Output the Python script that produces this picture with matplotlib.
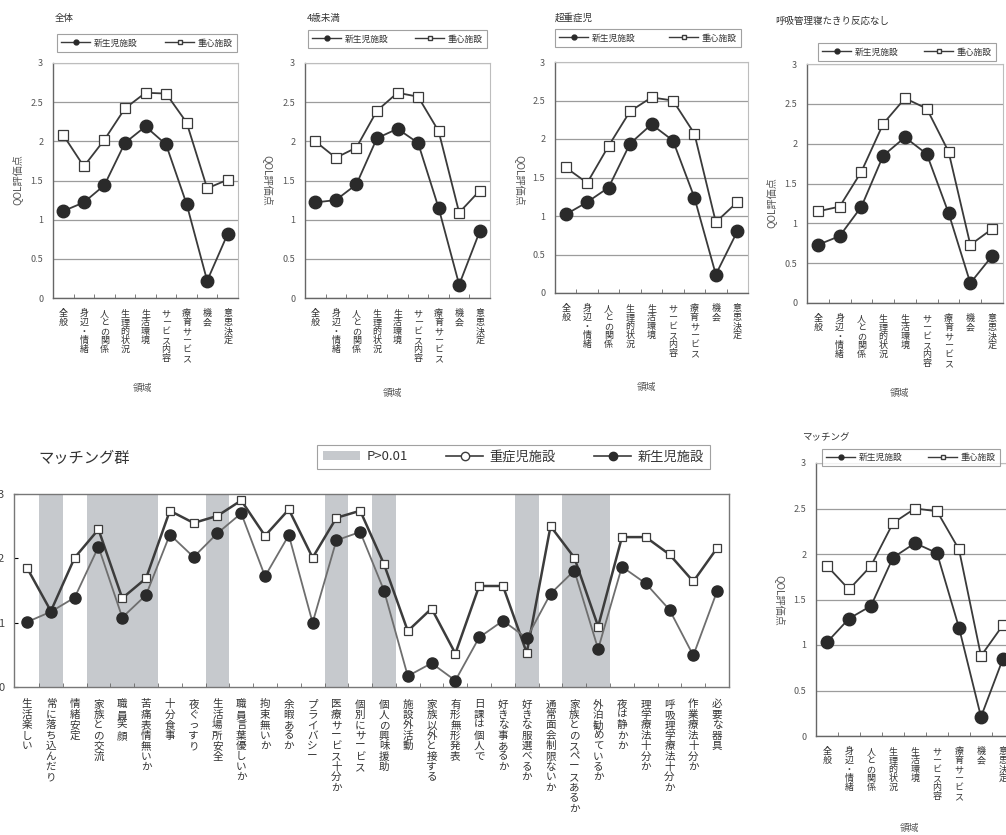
import matplotlib
matplotlib.use('Agg')
import matplotlib.pyplot as plt
from matplotlib.lines import Line2D
from matplotlib.patches import Patch
from matplotlib.ticker import FixedLocator
import numpy as np

plt.rcParams['font.family'] = ['Noto Sans CJK JP', 'DejaVu Sans']

W, H = 1006, 835

# ---------------- data ----------------
domains = ['全般', '身辺・情緒', '人との関係', '生理的状況', '生活環境',
           'サービス内容', '療育サービス', '機会', '意思決定']

all_neo = [1.11, 1.22, 1.44, 1.98, 2.19, 1.96, 1.20, 0.22, 0.82]
all_sev = [2.08, 1.68, 2.02, 2.42, 2.62, 2.61, 2.24, 1.40, 1.51]

u4_neo = [1.22, 1.25, 1.45, 2.04, 2.16, 1.98, 1.15, 0.17, 0.85]
u4_sev = [2.00, 1.79, 1.92, 2.39, 2.62, 2.57, 2.13, 1.09, 1.37]

ch_neo = [1.02, 1.18, 1.37, 1.94, 2.19, 1.98, 1.24, 0.24, 0.80]
ch_sev = [1.63, 1.43, 1.91, 2.36, 2.54, 2.50, 2.07, 0.92, 1.18]

rb_neo = [0.73, 0.84, 1.21, 1.85, 2.08, 1.87, 1.13, 0.25, 0.59]
rb_sev = [1.15, 1.21, 1.65, 2.25, 2.57, 2.44, 1.90, 0.73, 0.93]

mt_neo = [1.03, 1.29, 1.43, 1.96, 2.12, 2.01, 1.19, 0.21, 0.85]
mt_sev = [1.87, 1.61, 1.87, 2.34, 2.50, 2.47, 2.05, 0.88, 1.22]

items = ['生活楽しい', '常に落ち込んだり', '情緒安定', '家族との交流', '職員笑顔',
         '苦痛表情無いか', '十分食事', '夜ぐっすり', '生活場所安全', '職員言葉優しいか',
         '拘束無いか', '余暇あるか', 'プライバシー', '医療サービス十分か', '個別にサービス',
         '個人の興味援助', '施設外活動', '家族以外と接する', '有形無形発表', '日課は個人で',
         '好きな事あるか', '好きな服選べるか', '通常面会制限ないか', '家族とのスペースあるか',
         '外泊勧めているか', '夜は静かか', '理学療法十分か', '呼吸理学療法十分か',
         '作業療法十分か', '必要な器具']
item_sev = [1.85, 1.18, 2.01, 2.45, 1.38, 1.69, 2.74, 2.55, 2.66, 2.90,
            2.35, 2.76, 2.01, 2.63, 2.74, 1.91, 0.87, 1.22, 0.52, 1.57,
            1.57, 0.53, 2.50, 2.01, 0.94, 2.33, 2.33, 2.06, 1.64, 2.16]
item_neo = [1.01, 1.17, 1.39, 2.18, 1.08, 1.43, 2.37, 2.02, 2.39, 2.70,
            1.72, 2.36, 1.00, 2.28, 2.41, 1.50, 0.17, 0.37, 0.10, 0.77,
            1.03, 0.76, 1.45, 1.81, 0.59, 1.87, 1.61, 1.20, 0.49, 1.49]
p_gt_001 = [0, 1, 0, 1, 1, 1, 0, 0, 1, 0,
            0, 0, 0, 1, 0, 1, 0, 0, 0, 0,
            0, 1, 0, 1, 1, 0, 0, 0, 0, 0]

TXT = '#333333'
LINE = '#3a3a3a'
DOT = '#2a2a2a'
SHADE = '#c6c9cd'

fig = plt.figure(figsize=(W / 100, H / 100), dpi=100)
fig.patch.set_facecolor('white')


def px_axes(l, r, t, b):
    return fig.add_axes([l / W, 1 - b / H, (r - l) / W, (b - t) / H])


def vert(s):
    return '\n'.join(s)


def ftext(x, y, s, **kw):
    return fig.text(x / W, 1 - y / H, s, **kw)


def small_chart(box, title, title_xy, leg, ylab_xy, ylab_rot, xlab_xy, neo, sev):
    l, r, t, b = box
    ax = px_axes(l, r, t, b)
    x = np.arange(len(domains))
    ax.set_xlim(-0.5, len(domains) - 0.5)
    ax.set_ylim(0, 3)
    ax.set_yticks(np.arange(0, 3.01, 0.5))
    ax.set_yticklabels(['0', '0.5', '1', '1.5', '2', '2.5', '3'])
    ax.yaxis.grid(True, color='#9c9c9c', lw=0.9)
    ax.set_axisbelow(True)
    ax.plot(x, neo, color=LINE, lw=1.3, marker='o', ms=9,
            mfc=DOT, mec=DOT, zorder=3)
    ax.plot(x, sev, color=LINE, lw=1.3, marker='s', ms=7,
            mfc='white', mec=LINE, mew=0.9, zorder=4)
    ax.set_xticks(x)
    ax.set_xticklabels([vert(d) for d in domains], fontsize=6.5,
                       linespacing=1.0, color=TXT, va='top')
    ax.xaxis.set_minor_locator(FixedLocator(np.arange(0.5, len(domains) - 1, 1)))
    ax.tick_params(axis='x', which='major', length=0, pad=8)
    ax.tick_params(axis='x', which='minor', length=3, direction='in', color='#666')
    ax.tick_params(axis='y', length=0, labelsize=6.5, labelcolor='#555', pad=7)
    for s in ['left', 'bottom']:
        ax.spines[s].set_color('#666')
        ax.spines[s].set_linewidth(1.0)
    for s in ['top', 'right']:
        ax.spines[s].set_color('#bdbdbd')
        ax.spines[s].set_linewidth(0.8)
    ftext(title_xy[0], title_xy[1], title, fontsize=6.8, color=TXT,
          ha='left', va='center')
    ftext(ylab_xy[0], ylab_xy[1], 'QOL評価点', fontsize=7.3, color='#555',
          rotation=ylab_rot, ha='center', va='center')
    ftext(xlab_xy[0], xlab_xy[1], '領域', fontsize=7, color='#555',
          ha='center', va='center')
    x0, x1, y0, y1 = leg
    h_neo = Line2D([], [], color=LINE, lw=1.0, marker='o', ms=3.5, mfc=DOT, mec=DOT)
    h_sev = Line2D([], [], color=LINE, lw=1.0, marker='s', ms=3.5, mfc='white', mec=LINE)
    lg = fig.legend([h_neo, h_sev], ['新生児施設', '重心施設'], loc='center',
                    bbox_to_anchor=(x0 / W, 1 - y1 / H, (x1 - x0) / W, (y1 - y0) / H),
                    bbox_transform=fig.transFigure, mode='expand', ncol=2,
                    fontsize=6.3, handlelength=3.3, handletextpad=0.4,
                    columnspacing=0.8, borderpad=0.5, borderaxespad=0,
                    frameon=True, fancybox=False, labelcolor=TXT)
    lg.get_frame().set_edgecolor('#8a8a8a')
    lg.get_frame().set_linewidth(0.8)
    return ax


small_chart((53, 238, 63, 298), '全体', (55, 19), (57, 237, 33, 53),
            (17, 180), 90, (143, 388), all_neo, all_sev)
small_chart((305, 490, 63, 298), '4歳未満', (307, 18), (308, 487, 28, 50),
            (268, 180), 270, (393, 393), u4_neo, u4_sev)
small_chart((555, 748, 62, 293), '超重症児', (555, 18), (555, 741, 26, 50),
            (520, 180), 270, (647, 387), ch_neo, ch_sev)
small_chart((807, 1003, 64, 303), '呼吸管理寝たきり反応なし', (775, 21), (818, 996, 41, 63),
            (771, 203), 90, (900, 393), rb_neo, rb_sev)
small_chart((816, 1014, 463, 736), 'マッチング', (802, 438), (822, 1000, 445, 470),
            (780, 600), 270, (910, 828), mt_neo, mt_sev)

# ---------------- bottom large chart ----------------
axb = px_axes(14, 729, 494, 687)
xb = np.arange(len(items))
axb.set_xlim(-0.55, len(items) - 0.5)
axb.set_ylim(0, 3)
for i, f in enumerate(p_gt_001):
    if f:
        axb.axvspan(i - 0.5, i + 0.5, color=SHADE, lw=0, zorder=0)
axb.plot(xb, item_sev, color='#3c3c3c', lw=1.8, marker='s', ms=5.5,
         mfc='white', mec='#3c3c3c', mew=0.9, zorder=3)
axb.plot(xb, item_neo, color='#6e6e6e', lw=1.3, marker='o', ms=8,
         mfc=DOT, mec=DOT, zorder=4)
axb.set_yticks([0, 1, 2, 3])
axb.set_yticklabels(['0', '1', '2', '3'])
axb.tick_params(axis='y', length=3, direction='in', labelsize=8,
                labelcolor='#444', pad=7)
axb.set_xticks(xb)
axb.set_xticklabels([vert(s) for s in items], fontsize=7.6,
                    linespacing=1.05, color=TXT, va='top')
axb.xaxis.set_minor_locator(FixedLocator(np.arange(0.5, len(items) - 1, 1)))
axb.tick_params(axis='x', which='major', length=0, pad=9)
axb.tick_params(axis='x', which='minor', length=3, direction='in', color='#666')
for s in axb.spines.values():
    s.set_color('#777')
    s.set_linewidth(1.0)

ftext(38, 458, 'マッチング群', fontsize=11, color=TXT, ha='left', va='center')

hb_p = Patch(facecolor=SHADE, edgecolor='none')
hb_sev = Line2D([], [], color='#3c3c3c', lw=1.2, marker='o', ms=6, mfc='white', mec='#3c3c3c')
hb_neo = Line2D([], [], color='#3c3c3c', lw=1.2, marker='o', ms=6, mfc=DOT, mec=DOT)
lgb = fig.legend([hb_p, hb_sev, hb_neo], ['P>0.01', '重症児施設', '新生児施設'],
                 loc='center', bbox_to_anchor=(317 / W, 1 - 472 / H, 393 / W, 30 / H),
                 bbox_transform=fig.transFigure, mode='expand', ncol=3,
                 fontsize=9.5, handlelength=2.8, handletextpad=0.5,
                 columnspacing=1.0, borderpad=0.45, borderaxespad=0,
                 frameon=True, fancybox=False, labelcolor=TXT)
lgb.get_frame().set_edgecolor('#8a8a8a')
lgb.get_frame().set_linewidth(0.8)

fig.savefig('out.png', dpi=100, facecolor='white')
